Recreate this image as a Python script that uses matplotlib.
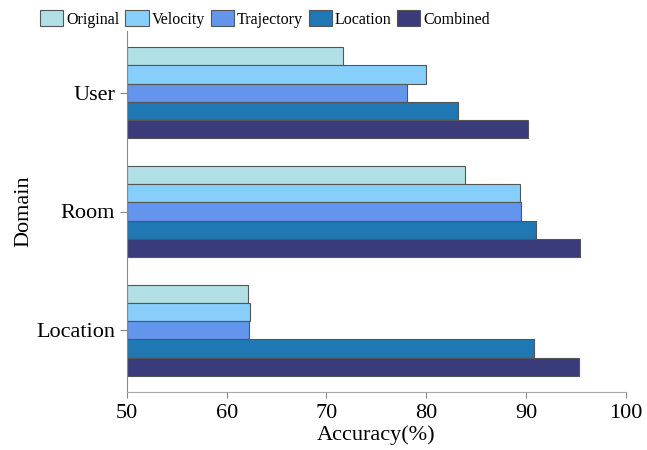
import matplotlib
matplotlib.use("Agg")
import matplotlib.pyplot as plt
import numpy as np

# Domains listed bottom-to-top on the chart
domains = ["Location", "Room", "User"]
methods = ["Original", "Velocity", "Trajectory", "Location", "Combined"]
colors = ["#b0e0e6", "#87cefa", "#6495ed", "#1f77b4", "#3a3b7a"]

# accuracy per method, ordered as domains
original = [62.1, 83.9, 71.7]
velocity = [62.3, 89.4, 80.0]
trajectory = [62.2, 89.5, 78.1]
location = [90.8, 91.0, 83.2]
combined = [95.3, 95.4, 90.2]
values = [original, velocity, trajectory, location, combined]

plt.rcParams["font.family"] = ["Liberation Serif", "DejaVu Serif"]

fig = plt.figure(figsize=(6.47, 4.5), dpi=100)
ax = fig.add_axes([0.196, 0.129, 0.7715, 0.802])

y = np.arange(len(domains))
h = 0.154
for i, (name, vals, c) in enumerate(zip(methods, values, colors)):
    offset = (2 - i) * h
    ax.barh(y + offset, np.array(vals) - 50, left=50, height=h, color=c,
            edgecolor="#555555", linewidth=0.8, label=name)

ax.set_xlim(50, 100)
ax.set_ylim(-0.52, 2.52)
ax.set_xticks(range(50, 101, 10))
ax.set_yticks(y)
ax.set_yticklabels(domains)
ax.tick_params(axis="both", labelsize=16, color="#888888")
ax.tick_params(axis="x", length=4, pad=5)
ax.tick_params(axis="y", length=5)

for side in ["top", "right"]:
    ax.spines[side].set_visible(False)
ax.spines["left"].set_color("#888888")
ax.spines["bottom"].set_color("#aaaaaa")

ax.set_xlabel("Accuracy(%)", fontsize=16, labelpad=1)
ax.set_ylabel("Domain", fontsize=16, labelpad=2)

fig.legend(loc="upper center", bbox_to_anchor=(0.41, 1.0), ncol=5, frameon=False,
           fontsize=11.5, handlelength=1.45, handleheight=1.15, handletextpad=0.2,
           columnspacing=0.35, borderaxespad=0.25)

fig.savefig("out.png", dpi=100)
plt.close(fig)
